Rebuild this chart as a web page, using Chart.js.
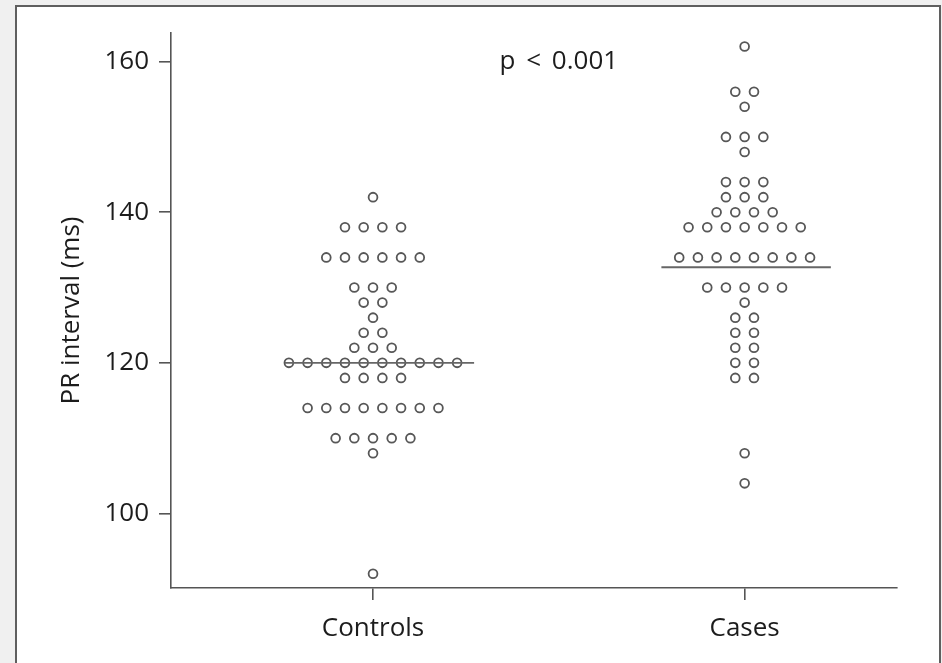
<!DOCTYPE html>
<html>
<head>
<meta charset="utf-8">
<script src="https://cdn.jsdelivr.net/npm/chart.js@4/dist/chart.umd.min.js"></script>
<style>
  html, body { margin: 0; padding: 0; background: #f0f0f0; width: 942px; height: 663px; overflow: hidden; }
  #frame { position: absolute; left: 15px; top: 5px; width: 922px; height: 657px;
           border: 2px solid #5f5f5f; border-bottom: none; background: #fff; }
  #c { position: absolute; left: 0; top: 0; }
</style>
</head>
<body>
<div id="frame"></div>
<canvas id="c" width="942" height="663"></canvas>
<script>
// Group names shown on the x axis
const groups = ['Controls', 'Cases'];

// PR interval (ms) for each subject
const controlsPR = [
  142,
  138, 138, 138, 138,
  134, 134, 134, 134, 134, 134,
  130, 130, 130,
  128, 128,
  126,
  124, 124,
  122, 122, 122,
  120, 120, 120, 120, 120, 120, 120, 120, 120, 120,
  118, 118, 118, 118,
  114, 114, 114, 114, 114, 114, 114, 114,
  110, 110, 110, 110, 110,
  108,
  92
];
const casesPR = [
  162,
  156, 156,
  154,
  150, 150, 150,
  148,
  144, 144, 144,
  142, 142, 142,
  140, 140, 140, 140,
  138, 138, 138, 138, 138, 138, 138,
  134, 134, 134, 134, 134, 134, 134, 134,
  130, 130, 130, 130, 130,
  128,
  126, 126,
  124, 124,
  122, 122,
  120, 120,
  118, 118,
  108,
  104
];

// Summary lines drawn across each group
const centerLines = [120, 132.7];

// Y axis tick values
const yTicks = [100, 120, 140, 160];

// Significance label
const pLabel = 'p < 0.001';

const FONT = "'Open Sans', 'Noto Sans', sans-serif";
const TEXT = '#1c1c1c';
const AXIS = '#555555';
const DOT_STEP = 0.0503;

// Spread equal values side by side around the group position
function swarm(values, pos) {
  const counts = {};
  values.forEach(v => { counts[v] = (counts[v] || 0) + 1; });
  const seen = {};
  return values.map(v => {
    const n = counts[v];
    const i = seen[v] = (seen[v] === undefined ? 0 : seen[v] + 1);
    return { x: pos + (i - (n - 1) / 2) * DOT_STEP, y: v };
  });
}

const pointStyle = {
  pointRadius: 4.4,
  pointBorderWidth: 1.8,
  borderColor: '#575757',
  backgroundColor: '#ffffff',
  pointHoverRadius: 4.4,
  order: 1
};

const lineStyle = {
  type: 'line',
  borderColor: '#666666',
  borderWidth: 1.9,
  pointRadius: 0,
  fill: false,
  order: 0
};

const pValuePlugin = {
  id: 'pValue',
  afterDatasetsDraw(chart) {
    const { ctx, scales: { x, y } } = chart;
    ctx.save();
    ctx.font = `26px ${FONT}`;
    ctx.fillStyle = TEXT;
    ctx.textAlign = 'center';
    ctx.textBaseline = 'middle';
    if ('wordSpacing' in ctx) ctx.wordSpacing = '4px';
    ctx.fillText(pLabel, x.getPixelForValue(1.5), y.getPixelForValue(160));
    ctx.restore();
  }
};

new Chart(document.getElementById('c'), {
  type: 'scatter',
  data: {
    datasets: [
      { label: groups[0], data: swarm(controlsPR, 1), ...pointStyle },
      { label: groups[1], data: swarm(casesPR, 2), ...pointStyle },
      { label: 'c-line', data: [{ x: 0.763, y: centerLines[0] }, { x: 1.272, y: centerLines[0] }], ...lineStyle },
      { label: 'k-line', data: [{ x: 1.776, y: centerLines[1] }, { x: 2.232, y: centerLines[1] }], ...lineStyle }
    ]
  },
  options: {
    responsive: false,
    animation: false,
    layout: { padding: { left: 0, top: 33, right: 45, bottom: 0 } },
    plugins: { legend: { display: false }, tooltip: { enabled: false } },
    scales: {
      x: {
        type: 'linear',
        position: 'bottom',
        min: 0.4564,
        max: 2.41,
        afterBuildTicks: s => { s.ticks = [{ value: 1 }, { value: 2 }]; },
        afterFit: s => { s.height = 75; },
        ticks: {
          callback: v => groups[v - 1],
          font: { family: FONT, size: 26 },
          color: TEXT,
          padding: 13,
          maxRotation: 0
        },
        grid: { drawOnChartArea: false, drawTicks: true, tickLength: 12, color: AXIS, lineWidth: 1.6 },
        border: { display: true, color: AXIS, width: 1.6 }
      },
      y: {
        min: 90.1,
        max: 163.8,
        afterBuildTicks: s => { s.ticks = yTicks.map(v => ({ value: v })); },
        afterFit: s => { s.width = 171; },
        ticks: {
          font: { family: FONT, size: 26 },
          color: TEXT,
          padding: 10
        },
        title: {
          display: true,
          text: 'PR interval (ms)',
          font: { family: FONT, size: 26 },
          color: TEXT,
          padding: { top: 56, bottom: 0 }
        },
        grid: { drawOnChartArea: false, drawTicks: true, tickLength: 12, color: AXIS, lineWidth: 1.6 },
        border: { display: true, color: AXIS, width: 1.6 }
      }
    }
  },
  plugins: [pValuePlugin]
});
</script>
</body>
</html>
